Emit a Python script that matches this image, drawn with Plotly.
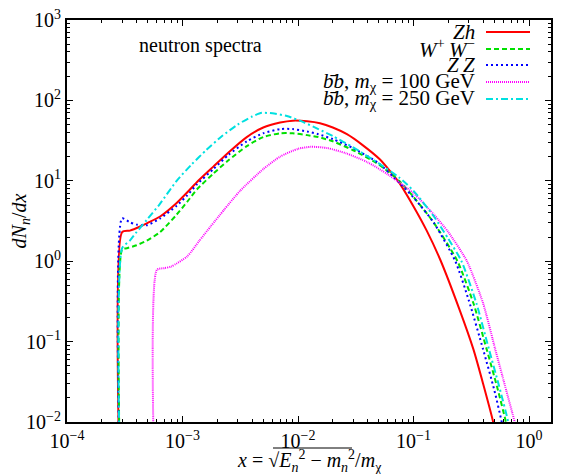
import plotly.graph_objects as go

# ---------------- data ----------------
zh_x = [2.99e-4, 3.0e-4, 3.5e-4, 4.3e-4, 5e-4, 6.4e-4, 8.9e-4, 1.1e-3, 1.33e-3, 1.85e-3, 2.5e-3, 3.6e-3,
        5e-3, 7e-3, 9e-3, 1.2e-2, 1.55e-2, 2e-2, 2.65e-2, 3.6e-2, 5.1e-2, 7.5e-2, 0.1, 0.13, 0.17, 0.25,
        0.33, 0.4, 0.485, 0.52]
zh_y = [1e-4, 2.3, 2.4, 2.7, 3.0, 3.6, 5.3, 7.2, 9.6, 15, 22.5, 35,
        46, 53, 56, 55, 52, 46, 38, 28, 18.5, 9.5, 4.8, 2.4, 1.05, 0.25,
        0.08, 0.03, 0.0105, 0.006]

ww_x = [2.99e-4, 3.0e-4, 3.3e-4, 4e-4, 4.9e-4, 6.4e-4, 8.9e-4, 1.1e-3, 1.33e-3, 1.85e-3, 2.5e-3, 3.6e-3,
        5e-3, 7e-3, 9e-3, 1.2e-2, 1.5e-2, 2e-2, 3e-2, 5e-2, 7.5e-2, 0.1, 0.15, 0.24, 0.33, 0.43,
        0.53, 0.63, 0.67]
ww_y = [1e-4, 1.4, 1.45, 1.58, 1.8, 2.3, 3.8, 5.5, 7.8, 12.3, 18, 27,
        35, 39, 39, 37, 35, 31, 24, 16, 10, 6.3, 3.0, 1.0, 0.3, 0.08,
        0.027, 0.01, 0.006]

zz_x = [2.99e-4, 3.0e-4, 3.5e-4, 4e-4, 4.9e-4, 6.4e-4, 8.9e-4, 1.1e-3, 1.33e-3, 1.85e-3, 2.5e-3, 3.6e-3,
        5e-3, 7e-3, 9e-3, 1.2e-2, 1.5e-2, 2e-2, 3e-2, 5e-2, 7.5e-2, 0.1, 0.15, 0.23, 0.3, 0.4,
        0.5, 0.58, 0.62]
zz_y = [1e-4, 3.4, 3.05, 2.85, 2.8, 3.4, 4.9, 6.6, 9.0, 14, 21, 31,
        39, 44, 44, 41, 38, 33, 25.5, 16.5, 9.5, 6.2, 3.0, 1.0, 0.33, 0.08,
        0.025, 0.01, 0.006]

bb100_x = [5.99e-4, 6.0e-4, 7e-4, 8e-4, 1.1e-3, 1.4e-3, 1.75e-3, 2.3e-3, 3.15e-3, 5e-3, 7e-3,
           1e-2, 1.3e-2, 1.8e-2, 2.6e-2, 4e-2, 6e-2, 0.1, 0.15, 0.2, 0.29, 0.4, 0.51, 0.62, 0.75, 0.8]
bb100_y = [1e-4, 0.78, 0.82, 0.86, 1.15, 1.8, 2.7, 4.4, 7.5, 14, 20,
           25, 26.5, 25.5, 22, 17, 12, 7.0, 3.8, 2.3, 1.0, 0.3, 0.08, 0.028, 0.01, 0.006]

bb250_x = [2.99e-4, 3.0e-4, 3.5e-4, 4e-4, 4.9e-4, 6.4e-4, 8.9e-4, 1.2e-3, 1.6e-3, 2.2e-3, 3e-3,
           4e-3, 4.85e-3, 6e-3, 8e-3, 1.1e-2, 1.5e-2, 2e-2, 3e-2, 5e-2, 7.5e-2, 0.1, 0.15, 0.2, 0.26,
           0.35, 0.45, 0.55, 0.66, 0.7]
bb250_y = [1e-4, 1.45, 1.8, 2.3, 3.25, 5.2, 10, 16, 24, 36, 50,
           63, 70, 69, 64, 54, 44, 36, 26, 16.5, 11, 7.5, 3.6, 1.9, 1.0,
           0.3, 0.08, 0.028, 0.01, 0.006]

series_names = [
    "<i>Zh</i>",
    "<i>W</i><sup>+</sup>\u2009<i>W</i><sup>−</sup>",
    "<i>Z\u2009Z</i>",
    "<i>b</i>\u0304<i>b</i>, <i>m</i><sub>χ</sub> = 100 GeV",
    "<i>b</i>\u0304<i>b</i>, <i>m</i><sub>χ</sub> = 250 GeV",
]
series_x = [zh_x, ww_x, zz_x, bb100_x, bb250_x]
series_y = [zh_y, ww_y, zz_y, bb100_y, bb250_y]
series_colors = ["#ff0000", "#00e000", "#0000ff", "#ff00ff", "#00e0e0"]
series_dash = ["solid", "5px,3px", "2px,3px", "1px,1px", "7px,3px,2px,3px"]

xtick_vals = [1e-4, 1e-3, 1e-2, 1e-1, 1e0]
xtick_text = ["10<sup>−4</sup>", "10<sup>−3</sup>", "10<sup>−2</sup>", "10<sup>−1</sup>", "10<sup>0</sup>"]
ytick_vals = [1e-2, 1e-1, 1e0, 1e1, 1e2, 1e3]
ytick_text = ["10<sup>−2</sup>", "10<sup>−1</sup>", "10<sup>0</sup>", "10<sup>1</sup>", "10<sup>2</sup>", "10<sup>3</sup>"]

# ---------------- figure ----------------
FONT = "Liberation Serif"
OFF = 8                      # page body margin of the browser (top/left)
W, H = 576 - OFF, 474 - OFF
# plot area in window pixels: x 67..551, y 20..422
ML, MR, MT, MB = 67 - OFF, 576 - 551, 20 - OFF, 474 - 422
PW, PH = W - ML - MR, H - MT - MB


def px2paper(px, py):
    # px, py are pixel positions in the 576x474 window
    return (px - OFF - ML) / PW, (H - MB - (py - OFF)) / PH


fig = go.Figure()
for nm, xs, ys, c, d in zip(series_names, series_x, series_y, series_colors, series_dash):
    fig.add_trace(go.Scatter(x=xs, y=ys, mode="lines", name=nm,
                             line=dict(color=c, width=2, dash=d, shape="spline", smoothing=0.6),
                             showlegend=False))

minor_x = [m * 10.0 ** k for k in range(-4, 1) for m in range(2, 10)]
minor_y = [m * 10.0 ** k for k in range(-2, 3) for m in range(2, 10)]

axis_common = dict(showline=True, linecolor="black", linewidth=2, mirror="allticks",
                   ticks="inside", ticklen=6, tickwidth=1, tickcolor="black",
                   showgrid=False, zeroline=False, automargin=False,
                   ticklabeloverflow="allow",
                   tickfont=dict(family=FONT, size=20, color="black"))

fig.update_xaxes(type="log", range=[-4, 0.19], tickmode="array",
                 tickvals=xtick_vals, ticktext=xtick_text,
                 minor=dict(tickmode="array", tickvals=minor_x, ticks="inside", ticklen=3,
                            tickcolor="black", tickwidth=1, showgrid=False),
                 **axis_common)
fig.update_yaxes(type="log", range=[-2, 3], tickmode="array",
                 tickvals=ytick_vals, ticktext=ytick_text,
                 minor=dict(tickmode="array", tickvals=minor_y, ticks="inside", ticklen=3,
                            tickcolor="black", tickwidth=1, showgrid=False),
                 title=dict(text="<i>dN</i><sub><i>n</i></sub>/<i>dx</i>",
                            font=dict(family=FONT, size=20, color="black"), standoff=6),
                 **axis_common)

annotations = []
shapes = []
# x-axis title with radical
annotations.append(dict(xref="paper", yref="paper", x=px2paper(309, 0)[0], y=px2paper(0, 461)[1],
                        text="<i>x</i> = √<i>E</i><sub><i>n</i></sub><sup>2</sup> − <i>m</i><sub><i>n</i></sub><sup>2</sup>/<i>m</i><sub>χ</sub>",
                        showarrow=False, xanchor="center", yanchor="middle",
                        font=dict(family=FONT, size=20, color="black")))
x0, yv = px2paper(273, 448)
x1, _ = px2paper(352, 448)
shapes.append(dict(type="line", xref="paper", yref="paper", x0=x0, x1=x1, y0=yv, y1=yv,
                   line=dict(color="black", width=1)))

# "neutron spectra"
annotations.append(dict(xref="paper", yref="paper", x=px2paper(137, 0)[0], y=px2paper(0, 45)[1],
                        text="neutron spectra", showarrow=False, xanchor="left", yanchor="middle",
                        font=dict(family=FONT, size=20, color="black")))

# legend (labels right-aligned, sample lines to the right)
leg_rows = [32, 49, 65, 82, 99]
for nm, c, d, ry in zip(series_names, series_colors, series_dash, leg_rows):
    lx, ly = px2paper(477, ry)
    annotations.append(dict(xref="paper", yref="paper", x=lx, y=ly, text=nm, showarrow=False,
                            xanchor="right", yanchor="middle",
                            font=dict(family=FONT, size=21, color="black")))
    a0, _ = px2paper(486, ry)
    a1, _ = px2paper(530, ry)
    shapes.append(dict(type="line", xref="paper", yref="paper", x0=a0, x1=a1, y0=ly, y1=ly,
                       line=dict(color=c, width=2, dash=d)))

fig.update_layout(width=W, height=H, margin=dict(l=ML, r=MR, t=MT, b=MB, pad=0, autoexpand=False),
                  paper_bgcolor="white", plot_bgcolor="white",
                  annotations=annotations, shapes=shapes,
                  font=dict(family=FONT, size=20, color="black"))

fig.write_html("out.html")
